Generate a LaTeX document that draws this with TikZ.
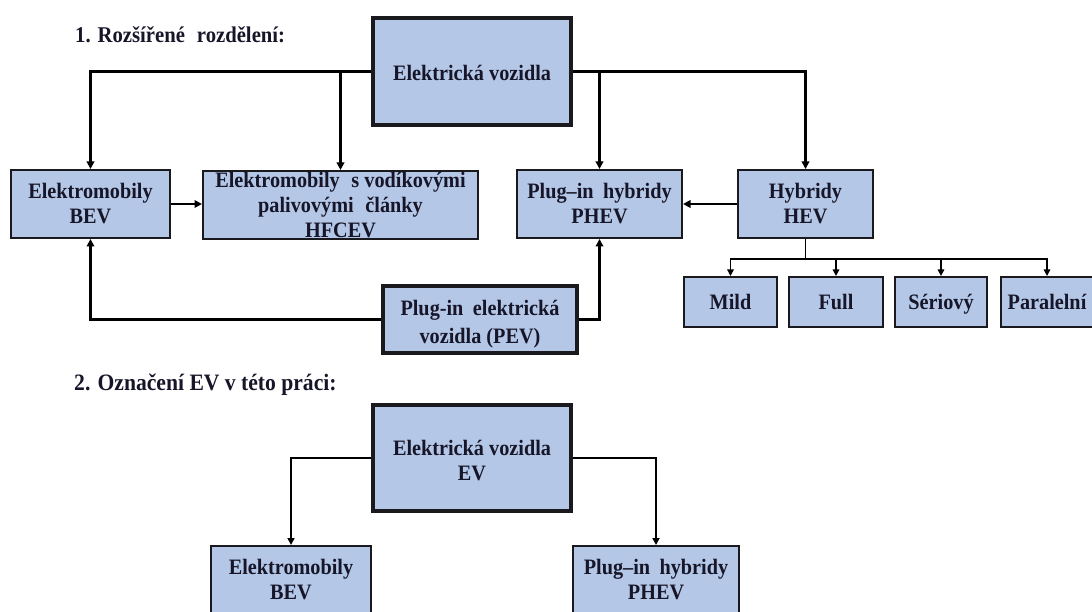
\documentclass[tikz,border=0pt]{standalone}
\usepackage{fontspec}
\setmainfont[FakeStretch=0.92]{Liberation Serif}
\usetikzlibrary{arrows.meta}
\definecolor{boxfill}{RGB}{180,199,231}
\definecolor{boxline}{RGB}{25,25,30}
\definecolor{txt}{RGB}{22,22,40}
\begin{document}
\begin{tikzpicture}[x=1pt,y=-1pt,
  box/.style={draw=boxline, fill=boxfill, line width=2pt, inner sep=0pt, align=center,
    text=txt, font=\fontsize{22}{25}\selectfont\bfseries},
  smallbox/.style={draw=boxline, fill=boxfill, line width=2pt, inner sep=0pt,
    text height=17pt, text depth=3pt, text=txt, font=\fontsize{22}{25}\selectfont\bfseries,
    minimum height=50pt},
  bigbox/.style={box, line width=3.8pt},
  title/.style={anchor=west, inner sep=0pt, text=txt, font=\fontsize{22.5}{26}\selectfont\bfseries},
  conn/.style={draw=black, line width=2.1pt, -{Triangle[length=7.5pt,width=7.5pt]}},
  thinconn/.style={draw=black, line width=1.4pt, -{Triangle[length=6.5pt,width=6.5pt]}},
  thinline/.style={draw=black, line width=1.4pt},
  midconn/.style={draw=black, line width=1.7pt, -{Triangle[length=7pt,width=7pt]}}
]
\useasboundingbox (0,0) rectangle (1092,612);
\clip (0,0) rectangle (1092,612);
\fill[white] (0,0) rectangle (1092,612);

% section 1
\node[title] (t1) at (75,35) {1. Rozšířené\hspace{0.3em} rozdělení:};
\node[bigbox, minimum width=198pt, minimum height=107pt] (ev) at (472,71.5) {\rule{0pt}{18pt}Elektrická vozidla};
\node[box, minimum width=159pt, minimum height=68pt] (bev) at (90.5,204) {Elektromobily\\BEV};
\node[box, minimum width=275pt, minimum height=68pt] (hfcev) at (340.5,205) {Elektromobily\hspace{0.3em} s vodíkovými\\palivovými\hspace{0.3em} články\\HFCEV};
\node[box, minimum width=165pt, minimum height=68pt] (phev) at (599.5,204) {Plug–in\hspace{0.2em} hybridy\\PHEV};
\node[box, minimum width=135pt, minimum height=68pt] (hev) at (805.5,204) {Hybridy\\HEV};
\node[smallbox, minimum width=93pt] (mild) at (730.5,302) {Mild};
\node[smallbox, minimum width=94pt] (full) at (836,302) {Full};
\node[smallbox, minimum width=92pt] (ser) at (941,302) {Sériový};
\node[smallbox, minimum width=92pt] (para) at (1047,302) {Paralelní};
\node[bigbox, minimum width=194pt, minimum height=67pt, font=\fontsize{22}{28}\selectfont\bfseries] (pev) at (480,319.5) {\rule{0pt}{25pt}Plug-in\hspace{0.2em} elektrická\\vozidla (PEV)};

\draw[conn] (ev.west) -| (bev.north);
\draw[conn] (hfcev.north |- ev.west) -- (hfcev.north);
\draw[conn] (ev.east) -| (hev.north);
\draw[conn] (phev.north |- ev.east) -- (phev.north);
\draw[conn] (bev.east) -- (bev.east -| hfcev.west);
\draw[conn] (hev.west) -- (phev.east);
\draw[conn] (pev.west) -| (bev.south);
\draw[conn] (pev.east) -| (phev.south);

\coordinate (j) at ([yshift=-20pt]hev.south);
\draw[thinline] (hev.south) -- (j);
\draw[thinconn] (j) -| (mild.north);
\draw[thinconn] (j) -| (full.north);
\draw[thinconn] (j) -| (ser.north);
\draw[thinconn] (j) -| (para.north);

% section 2
\node[title, font=\fontsize{23.5}{27}\selectfont\bfseries] (t2) at (74,385) {2. Označení EV v této práci:};
\node[bigbox, minimum width=198pt, minimum height=106pt] (ev2) at (472,458) {\rule{0pt}{21pt}Elektrická vozidla\\EV};
\node[box, minimum width=160pt, minimum height=68pt] (bev2) at (291,580) {Elektromobily\\BEV};
\node[box, minimum width=166pt, minimum height=68pt] (phev2) at (656,580) {Plug–in\hspace{0.2em} hybridy\\PHEV};

\draw[midconn] (ev2.west) -| (bev2.north);
\draw[midconn] (ev2.east) -| (phev2.north);
\end{tikzpicture}
\end{document}
